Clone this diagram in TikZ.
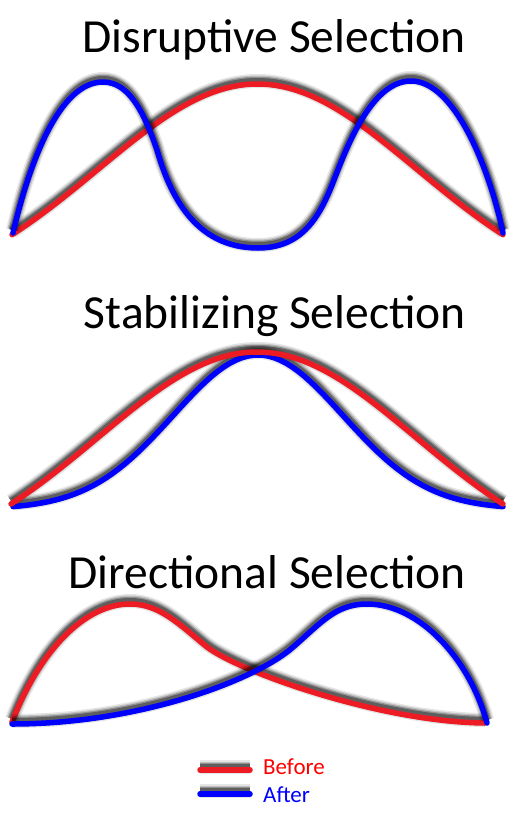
\documentclass[tikz,border=0pt]{standalone}
\usepackage{fontspec}
\setmainfont{Carlito}
\usetikzlibrary{positioning}
\definecolor{beforered}{RGB}{237,28,36}
\definecolor{afterblue}{RGB}{0,0,255}

\begin{document}
\begin{tikzpicture}[
    x=1pt,y=-1pt,
    halo/.style={
      preaction={draw,black,opacity=0.10,line width=14pt,transform canvas={yshift=3pt}},
      preaction={draw,black,opacity=0.16,line width=11pt,transform canvas={yshift=3pt}},
      preaction={draw,black,opacity=0.25,line width=8.5pt,transform canvas={yshift=3pt}},
      preaction={draw,black,opacity=0.35,line width=6pt,transform canvas={yshift=3pt}}},
    curve/.style={halo,line width=5.5pt,line cap=round,line join=round},
    before/.style={curve,draw=beforered},
    after/.style={curve,draw=afterblue},
    title/.style={font=\fontsize{47.5}{57}\selectfont,anchor=base east,inner sep=0pt},
    key/.style={font=\fontsize{23}{27}\selectfont,anchor=base west,inner sep=0pt}
]
  \useasboundingbox (0,0) rectangle (514,819);

  % Titles
  \node[title] (disrupt) at (466,52) {Disruptive Selection};
  \node[title] (stab) at (466,328) {Stabilizing Selection};
  \node[title] (direct) at (466,588) {Directional Selection};

  % Disruptive
  \draw[before] plot[domain=12:503,samples=70]
    (\x,{235-151*(exp(-((\x-257.5)/160)^2/2)-0.3067)/0.6933});
  \draw[after] (13,233) .. controls (30,160) and (60,82) .. (103,82)
    .. controls (130,82) and (145,115) .. (157,150)
    .. controls (170,195) and (195,248) .. (258,248)
    .. controls (300,248) and (318,220) .. (332,185)
    .. controls (345,152) and (370,81) .. (411,81)
    .. controls (455,81) and (490,170) .. (503,233);

  % Stabilizing
  \draw[after] plot[domain=13:503,samples=80]
    (\x,{509-154*exp(-((\x-258)/85)^2/2)});
  \draw[before] plot[domain=11:503,samples=70]
    (\x,{504-152*(exp(-((\x-257)/160)^2/2)-0.3067)/0.6933});

  % Directional
  \draw[before] (12,722) .. controls (40,650) and (85,604) .. (130,604)
    .. controls (160,604) and (180,625) .. (207,647)
    .. controls (240,672) and (380,722) .. (485,723);
  \draw[after] (12,724) .. controls (140,724) and (255,680) .. (292,648)
    .. controls (320,624) and (335,604) .. (367,604)
    .. controls (420,604) and (470,660) .. (487,723);

  % Legend
  \node[key,text=red] (bef) at (263,774) {Before};
  \node[key,text=blue] (aft) at (263,802) {After};
  \draw[before] ([shift={(-13,-4)}]bef.base west) -- ++(-50,0);
  \draw[after] ([shift={(-13,-8)}]aft.base west) -- ++(-50,0);
\end{tikzpicture}
\end{document}
